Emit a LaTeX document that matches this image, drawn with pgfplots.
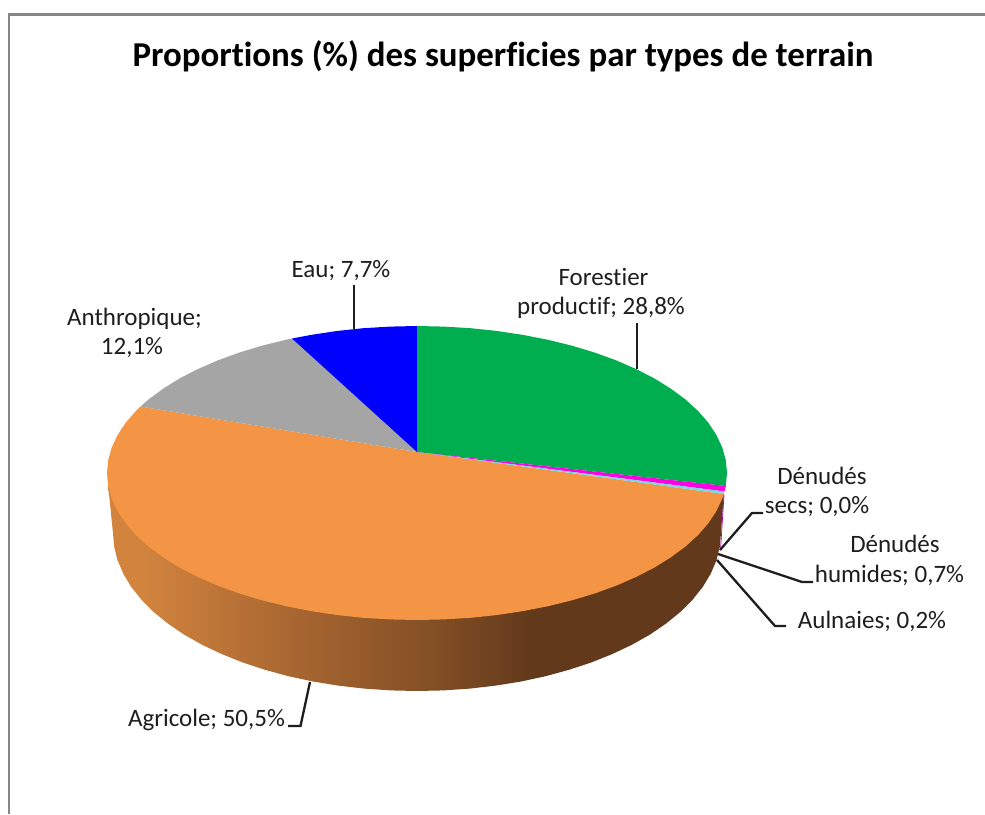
\documentclass[border=0pt]{standalone}
\usepackage{pgfplots}
\pgfplotsset{compat=1.18}
\usepackage{fontspec}
\setmainfont{Carlito}[Ligatures=CommonOff]
\definecolor{cgreen}{RGB}{0,174,80}
\definecolor{cmag}{RGB}{255,0,230}
\definecolor{ccyan}{RGB}{120,215,225}
\definecolor{corange}{RGB}{243,149,69}
\definecolor{cgrey}{RGB}{165,165,165}
\definecolor{cblue}{RGB}{0,0,255}
\definecolor{cframe}{RGB}{134,134,134}
\definecolor{ctxt}{RGB}{30,30,30}
\definecolor{sa}{RGB}{210,132,62}
\definecolor{sb}{RGB}{165,100,48}
\definecolor{sc}{RGB}{132,80,38}
\definecolor{sd}{RGB}{98,57,27}
\pgfdeclarehorizontalshading{sidegrad}{100bp}{
 color(0bp)=(sa);
 color(27.7bp)=(sa);
 color(40.9bp)=(sb);
 color(50.9bp)=(sc);
 color(59.5bp)=(sd);
 color(100bp)=(sd)}
\newcommand{\lab}[3]{\node[anchor=base,inner sep=0pt,text=ctxt,font=\fontsize{25}{30}\selectfont] at (axis cs:#1,#2) {#3};}
\begin{document}
\begin{tikzpicture}
\begin{axis}[
  scale only axis, width=985pt, height=814pt,
  xmin=0, xmax=985, ymin=0, ymax=814, y dir=reverse,
  hide axis, clip=true,
]
% page
\addplot[draw=none, fill=white] coordinates {(0,0)(985,0)(985,814)(0,814)} -- cycle;
% frame
\addplot[cframe, line width=2.2pt] coordinates {(9,814)(9,14.5)(985,14.5)};
% side of the pie
\addplot[draw=none, shade, shading=sidegrad] coordinates {
(723.8,494)(721,533)(719.8,546.8)(716.4,560.4)(710.6,573.9)(702.7,587)(692.5,599.8)(680.3,612)(666,623.6)(649.9,634.6)(632,644.7)(612.4,654)(591.4,662.4)(569,669.8)(545.5,676.2)(521,681.5)(495.7,685.6)(469.8,688.6)(443.5,690.4)(417,691)
(390.5,690.4)(364.2,688.6)(338.3,685.6)(313,681.5)(288.5,676.2)(265,669.8)(242.6,662.4)(221.6,654)(202,644.7)(184.1,634.6)(168,623.6)(153.7,612)(141.5,599.8)(131.3,587)(123.4,573.9)(117.6,560.4)(114.2,546.8)(113,533)(108.2,486)
} -- cycle;
\addplot[color=cmag!70!black, line width=0.7pt] coordinates {(724,495)(720.5,550)};
% Agricole 50,5
\addplot[fill=corange, draw=none] coordinates {
(417,452)(723.8,494)(722.3,498.5)(716.4,511)(708.3,523.3)(698,535.1)(685.5,546.5)(670.9,557.3)(654.5,567.5)(636.2,576.9)(616.3,585.6)(594.8,593.4)(572,600.3)(548,606.2)(523,611.1)(497.2,615)(470.8,617.8)(444,619.4)(417,620)
(390,619.4)(363.2,617.8)(336.8,615)(311,611.1)(286,606.2)(262,600.3)(239.2,593.4)(217.7,585.6)(197.8,576.9)(179.5,567.5)(163.1,557.3)(148.5,546.5)(136,535.1)(125.7,523.3)(117.6,511)(111.7,498.5)(108.2,485.8)(107,473)(108.2,460.2)(111.7,447.5)(117.6,435)(125.7,422.7)(136,410.9)(140.5,406.5)
} -- cycle;
% Anthropique 12,1
\addplot[fill=cgrey, draw=none] coordinates {
(417,452)(140.5,406.5)(148.5,399.5)(163.1,388.7)(179.5,378.5)(197.8,369.1)(217.7,360.4)(239.2,352.6)(262,345.7)(286,339.8)(292,338.5)
} -- cycle;
% Eau 7,7
\addplot[fill=cblue, draw=none] coordinates {
(417,452)(292,338.5)(311,334.9)(336.8,331)(363.2,328.2)(390,326.6)(417,326)
} -- cycle;
% Forestier productif 28,8
\addplot[fill=cgreen, draw=none] coordinates {
(417,452)(417,326)(444,326.6)(470.8,328.2)(497.2,331)(523,334.9)(548,339.8)(572,345.7)(594.8,352.6)(616.3,360.4)(636.2,369.1)(654.5,378.5)(670.9,388.7)(685.5,399.5)(698,410.9)(708.3,422.7)(716.4,435)(722.3,447.5)(725.8,460.2)(727,473)(725.8,486)
} -- cycle;
% Denudes humides 0,7
\addplot[fill=cmag, draw=none] coordinates {(417,452)(725.8,486)(724.5,491.5)} -- cycle;
% Aulnaies 0,2
\addplot[fill=ccyan, draw=none] coordinates {(417,452)(724.5,491.5)(723.8,494)} -- cycle;
% leaders
\addplot[ctxt, line width=2.3pt] coordinates {(354,285)(354,329)};
\addplot[ctxt, line width=2.3pt] coordinates {(637,323)(637,369)};
\addplot[ctxt, line width=2.3pt] coordinates {(720,550)(752,513)(763,513)};
\addplot[ctxt, line width=2.3pt] coordinates {(718,554)(802,582)(813,582)};
\addplot[ctxt, line width=2.3pt] coordinates {(717,560)(775,626)(786,626)};
\addplot[ctxt, line width=2.3pt] coordinates {(310,682)(300.5,726)(288,726)};
% text
\node[anchor=base,inner sep=0pt,text=black,font=\fontsize{34.9}{40}\selectfont\bfseries] at (axis cs:503,66) {Proportions (\%) des superficies par types de terrain};
\lab{341}{277}{Eau; 7,7\%}
\lab{603.5}{285}{Forestier}
\lab{601}{314}{productif; 28,8\%}
\lab{134.5}{325}{Anthropique;}
\lab{132}{354}{12,1\%}
\lab{206.5}{726}{Agricole; 50,5\%}
\lab{822}{484}{Dénudés}
\lab{817}{513}{secs; 0,0\%}
\lab{895}{552}{Dénudés}
\lab{889.5}{582}{humides; 0,7\%}
\lab{872}{628}{Aulnaies; 0,2\%}
\end{axis}
\end{tikzpicture}
\end{document}
